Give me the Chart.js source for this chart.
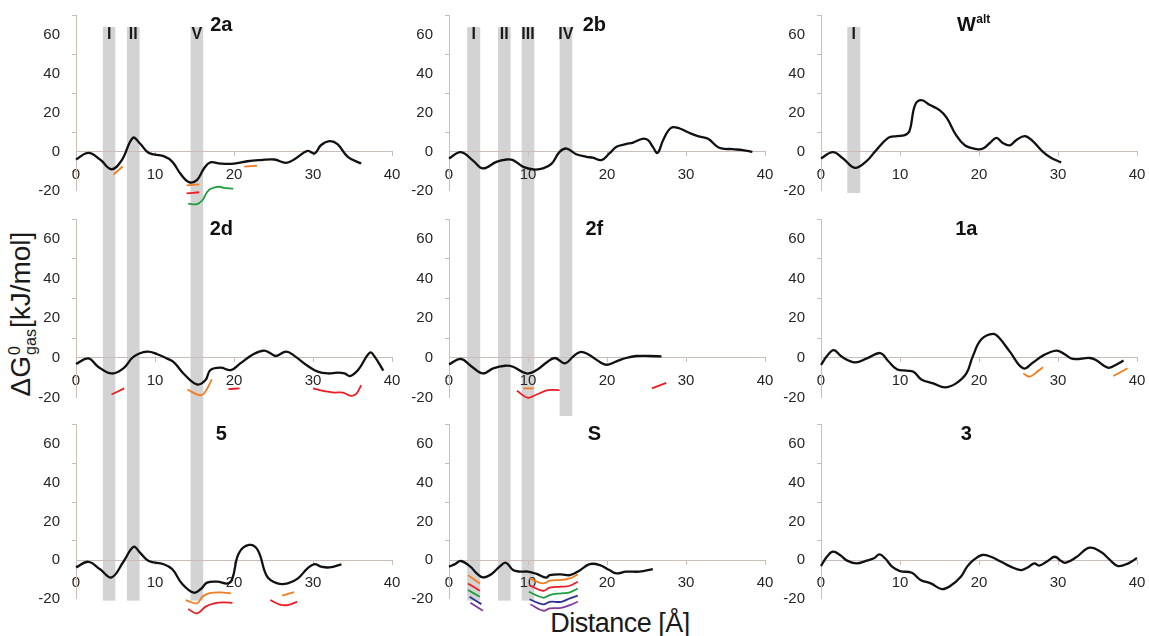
<!DOCTYPE html>
<html>
<head>
<meta charset="utf-8">
<script src="https://cdn.jsdelivr.net/npm/chart.js@4.4.1/dist/chart.umd.min.js"></script>
<style>
  html, body { margin: 0; padding: 0; background: #fff; }
  body { width: 1149px; height: 636px; position: relative; overflow: hidden; font-family: Arial, "Liberation Sans", sans-serif; }
  .panel { position: absolute; }
  .panel canvas { display: block; }
  #ylab { position: absolute; left: 23px; top: 314px; transform: translate(-50%, -50%) rotate(-90deg);
          font-size: 28px; color: #1a1a1a; white-space: nowrap; line-height: 1; }
  #ylab .ss { display: inline-block; vertical-align: middle; font-size: 16px; line-height: 1; text-align: left; margin: 0 1px; }
  #ylab .ss span { display: block; }
  #xlab { position: absolute; left: 620px; top: 623px; transform: translate(-50%, -50%);
          font-size: 27px; letter-spacing: -0.5px; color: #1a1a1a; white-space: nowrap; line-height: 1; }
</style>
</head>
<body>
<div id="ylab">ΔG<span class="ss"><span>0</span><span>gas</span></span>[kJ/mol]</div>
<div id="xlab">Distance [Å]</div>
<script>
// 各面板的能量曲線 (x: Å, y: kJ/mol)
const x2a = [0, 1.57, 3.05, 4.5, 5.8, 7.2, 8.1, 9.2, 11.1, 12.2, 13.2, 14.3, 15.3, 16.2, 17.0, 18.3, 20.0, 21.7, 23.4, 25.1, 26.6, 27.8, 29.3, 30.2, 31.0, 32.1, 33.1, 34.4, 36.1];
const y2a = [-4.1, -0.7, -4.1, -9.1, -4.4, 7.0, 4.1, -0.7, -2.4, -5.3, -11.3, -15.7, -14.7, -8.7, -5.6, -6.2, -6.2, -5.0, -4.4, -4.1, -5.8, -3.6, 0.3, -1.0, 3.2, 5.3, 3.8, -2.7, -6.2];
const x2b = [0, 1.5, 3.07, 4.3, 6.0, 7.3, 8.1, 9.4, 10.7, 11.9, 13.0, 14.0, 14.9, 16.1, 17.4, 18.2, 19.3, 20.3, 21.2, 22.4, 23.3, 24.5, 25.2, 25.8, 26.4, 27.1, 28.1, 29.2, 30.4, 31.5, 32.8, 34.2, 35.9, 37.2, 38.4];
const y2b = [-3.6, -0.3, -4.8, -8.7, -5.3, -4.1, -4.4, -7.9, -9.2, -8.7, -6.2, -0.2, 1.5, -1.4, -2.7, -3.2, -4.4, -1.0, 2.4, 3.8, 4.6, 6.5, 5.8, 2.4, -0.7, 5.8, 12.1, 11.8, 9.6, 7.9, 6.5, 1.9, 1.2, 0.7, -0.2];
const xWalt = [0, 1.5, 2.8, 4.3, 5.8, 6.8, 8.5, 9.6, 10.6, 11.2, 11.9, 12.7, 13.8, 15.0, 15.9, 17.1, 18.2, 19.7, 20.5, 21.3, 22.2, 23.0, 23.9, 24.7, 25.8, 26.8, 28.1, 29.1, 30.4];
const yWalt = [-3.6, -0.3, -3.6, -8.4, -4.8, -0.2, 7.0, 7.9, 8.4, 10.4, 23.8, 26.3, 23.8, 21.2, 17.4, 8.4, 3.2, 1.2, 1.5, 4.1, 7.0, 4.4, 3.2, 5.8, 7.9, 5.3, -0.2, -3.2, -5.6];
const x2d = [0, 1.57, 2.8, 4.5, 6.0, 7.3, 9.0, 10.3, 11.5, 12.4, 13.6, 15.3, 16.4, 17.0, 18.3, 19.6, 20.8, 22.5, 23.8, 24.6, 25.3, 26.6, 27.6, 29.3, 30.6, 31.9, 33.1, 34.0, 34.7, 35.7, 37.2, 37.8, 38.9];
const y2d = [-3.0, -0.2, -4.4, -7.8, -5.2, 0.7, 3.2, 1.9, -0.2, -2.2, -7.8, -13.3, -11.1, -6.1, -4.9, -6.1, -2.7, 2.0, 3.7, 2.4, 1.0, 3.2, 1.2, -3.9, -6.9, -7.8, -7.4, -7.8, -9.1, -6.1, 2.7, 0.7, -6.4];
const x2f = [0, 1.5, 2.9, 4.3, 5.6, 7.1, 8.1, 9.8, 11.1, 12.3, 13.4, 14.7, 15.7, 16.6, 17.6, 18.9, 19.9, 21.2, 22.4, 23.7, 25.4, 26.9];
const y2f = [-3.2, -0.5, -4.4, -7.8, -5.2, -3.9, -4.4, -7.8, -6.1, -2.4, 0, -2.7, 0.7, 3.0, 1.9, -1.5, -3.4, -1.7, 0, 1.0, 1.0, 0.8];
const x1a = [0, 0.7, 1.6, 2.6, 4.3, 5.8, 7.5, 8.5, 9.6, 10.8, 11.7, 12.7, 14.2, 15.7, 17.1, 18.4, 19.2, 20.3, 21.8, 22.6, 23.9, 25.6, 26.8, 28.1, 29.8, 30.8, 31.9, 34.0, 34.8, 36.3, 37.3, 38.3];
const y1a = [-3.5, 0.7, 4.0, 0.7, -2.2, -0.2, 2.5, -1.5, -5.7, -6.4, -6.9, -10.8, -12.8, -14.8, -12.8, -7.8, 0.7, 9.4, 12.1, 9.9, 3.2, -5.2, -2.4, 1.2, 3.7, 2.0, -0.5, 0, -1.0, -4.9, -3.5, -1.3];
const x5 = [0, 1.57, 3.05, 4.5, 6.0, 7.3, 8.1, 9.2, 11.1, 12.2, 13.4, 14.9, 15.8, 16.6, 17.9, 19.2, 19.8, 20.6, 21.9, 23.0, 24.2, 25.5, 26.8, 28.1, 29.3, 30.2, 31.0, 32.1, 33.6];
const y5 = [-3.8, -0.9, -4.8, -9.0, -0.9, 6.9, 3.8, -0.5, -2.2, -4.8, -12.1, -16.9, -15.0, -11.7, -11.2, -12.1, -9.5, 3.4, 7.8, 5.2, -8.6, -12.1, -12.1, -9.5, -4.3, -2.1, -3.4, -3.8, -2.2];
const xS = [0, 0.76, 1.5, 2.7, 3.5, 4.3, 5.4, 6.4, 7.2, 8.1, 9.0, 10.0, 11.1, 12.3, 12.75, 14.2, 15.3, 16.5, 17.8, 19.1, 20.3, 21.2, 22.4, 24.1, 25.8];
const yS = [-3.4, -2.1, -0.5, -3.4, -6.9, -9.0, -7.2, -3.4, -1.4, -5.2, -6.0, -6.0, -7.2, -9.1, -7.8, -7.4, -7.8, -5.5, -2.1, -2.6, -5.2, -6.9, -6.0, -6.0, -4.7];
const x3 = [0, 0.7, 1.5, 2.4, 3.3, 4.5, 5.8, 6.7, 7.4, 8.1, 9.0, 10.0, 11.5, 12.6, 13.9, 15.3, 16.4, 17.7, 18.5, 19.4, 20.4, 21.5, 22.8, 24.0, 25.3, 26.1, 27.0, 27.6, 28.7, 29.6, 30.4, 31.0, 32.3, 34.0, 35.5, 36.5, 37.6, 38.9, 40.0];
const y3 = [-3.1, 1.4, 4.3, 2.6, -0.3, -1.7, -0.3, 0.9, 2.9, 0.9, -3.4, -5.7, -6.6, -10.3, -12.1, -15.0, -13.3, -8.6, -3.4, 0.3, 2.6, 1.7, -0.9, -3.4, -5.2, -4.0, -1.7, -2.9, -0.5, 1.7, -0.5, -1.4, 1.4, 6.4, 4.0, 0.3, -3.1, -1.7, 1.0];

// 彩色短線段 (o 橘 / r 紅 / g 綠 / b 藍 / p 紫)
const seg2aX = [[4.75, 5.9], [14.0, 15.6], [14.0, 15.6], [21.3, 22.9], [14.2, 15.3, 16.0, 16.8, 17.9, 18.7, 19.9]];
const seg2aY = [[-11.8, -7.7], [-17.4, -16.9], [-21.5, -20.9], [-7.8, -7.3], [-26.7, -27, -25, -19.8, -18.1, -18.6, -19]];
const seg2aC = ['o', 'o', 'r', 'o', 'g'];
const seg2dX = [[4.5, 6.1], [14.1, 15.6, 16.2, 17.2], [19.3, 20.7], [30.0, 31.4, 32.7, 33.8, 34.8, 35.5, 36.1]];
const seg2dY = [[-18.4, -15.3], [-15.9, -18.7, -17.9, -10.8], [-15.7, -15.3], [-15.3, -16.7, -17.4, -17.4, -19.1, -17.9, -13.7]];
const seg2dC = ['r', 'o', 'r', 'r'];
const seg2fX = [[9.4, 10.7], [8.6, 10.0, 11.1, 12.5, 14.0], [25.7, 27.5]];
const seg2fY = [[-15.3, -15.3], [-16.5, -20.1, -18.4, -16.2, -16.2], [-15.3, -12.5]];
const seg2fC = ['o', 'r', 'r'];
const seg1aX = [[25.6, 26.4, 27.2, 28.1], [37.0, 38.8]];
const seg1aY = [[-7.8, -9.4, -7.4, -4.7], [-9.1, -5.2]];
const seg1aC = ['o', 'o'];
const seg5X = [[13.9, 15.3, 16.0, 16.8, 18.3, 19.6], [14.2, 15.3, 16.4, 17.5, 18.7, 19.8], [24.6, 25.7, 26.8, 28.0], [26.1, 27.6]];
const seg5Y = [[-20.7, -22.4, -19.0, -17.2, -16.7, -17.2], [-25.3, -27.6, -24.1, -22.4, -21.9, -22.2], [-20.7, -22.9, -23.3, -21.6], [-18.4, -16.6]];
const seg5C = ['o', 'r', 'r', 'o'];
const segSX = [[2.4, 3.9], [2.4, 3.9], [2.4, 3.9], [2.6, 4.1], [2.7, 4.3],
  [10.2, 11.9, 12.75, 14.2, 15.3, 16.3], [10.1, 11.9, 12.75, 14.2, 15.3, 16.3], [10.1, 11.9, 12.75, 14.2, 15.3, 16.3],
  [10.2, 11.9, 12.75, 14.2, 15.3, 16.3], [10.3, 11.9, 12.75, 14.2, 15.3, 16.3]];
const segSY = [[-7.8, -12.1], [-12.1, -15.9], [-15.5, -19.0], [-19.0, -22.8], [-22.1, -26.2],
  [-9.5, -12.1, -10.7, -10.3, -9.5, -7.4], [-12.9, -15.9, -14.3, -13.8, -13.3, -11.2], [-16.4, -19.5, -18.1, -17.2, -16.7, -14.7],
  [-20.3, -22.9, -21.6, -21.6, -19.8, -18.4], [-22.9, -26.2, -25.0, -24.7, -23.3, -21.6]];
const segSC = ['o', 'r', 'g', 'b', 'p', 'o', 'r', 'g', 'b', 'p'];

// 灰色區段 (跨列)，x 為 Å
const bandCol = [0, 0, 0, 1, 1, 1, 1, 2];
const bandName = ['I', 'II', 'V', 'I', 'II', 'III', 'IV', 'I'];
const bandFrom = [3.4, 6.44, 14.5, 2.3, 6.2, 9.2, 14.0, 3.33];
const bandTo = [4.98, 8.05, 16.1, 3.95, 7.8, 10.8, 15.6, 4.98];
const bandTop = [63.8, 63.8, 63.8, 63.8, 63.8, 63.8, 63.8, 63.8];
const bandLastRow = [2, 2, 2, 2, 2, 2, 1, 0];
const bandBottom = [-21, -21, -21, -21, -21, -21, -29.2, -21.3];

const panelTitle = ['2a', '2b', 'W', '2d', '2f', '1a', '5', 'S', '3'];
const panelSup = ['', '', 'alt', '', '', '', '', '', ''];
const curveX = [x2a, x2b, xWalt, x2d, x2f, x1a, x5, xS, x3];
const curveY = [y2a, y2b, yWalt, y2d, y2f, y1a, y5, yS, y3];
const segX = [seg2aX, [], [], seg2dX, seg2fX, seg1aX, seg5X, segSX, []];
const segY = [seg2aY, [], [], seg2dY, seg2fY, seg1aY, seg5Y, segSY, []];
const segC = [seg2aC, [], [], seg2dC, seg2fC, seg1aC, seg5C, segSC, []];

const COLORS = { o: '#f47b20', r: '#ed1c24', g: '#1f9e3f', b: '#2e3192', p: '#84399a' };
const AXIS = '#c9bfb8';
const BAND = '#d3d3d3';

// 版面
const colLeft = [0, 373, 745];
const rowTop = [0, 207, 418];
const rowH = [207, 211, 218];
const padTop = [15, 12, 6.7];
const padBottom = [16.5, 20.3, 37.3];

Chart.defaults.font.family = 'Arial, "Liberation Sans", sans-serif';

const pts = (xs, ys) => xs.map((x, i) => ({ x, y: ys[i] }));

const panelPlugin = {
  id: 'panel',
  beforeDraw(chart, args, opts) {
    const ctx = chart.ctx, xs = chart.scales.x, ys = chart.scales.y;
    ctx.save();
    for (let k = 0; k < bandName.length; k++) {
      if (bandCol[k] !== opts.col || opts.row > bandLastRow[k]) continue;
      const x0 = xs.getPixelForValue(bandFrom[k]);
      const x1 = xs.getPixelForValue(bandTo[k]);
      const top = opts.row === 0 ? ys.getPixelForValue(bandTop[k]) : 0;
      const bot = opts.row === bandLastRow[k] ? ys.getPixelForValue(bandBottom[k]) : chart.height;
      ctx.fillStyle = BAND;
      ctx.fillRect(x0, top, x1 - x0, bot - top);
      if (opts.row === 0) {
        ctx.fillStyle = '#1a1a1a';
        ctx.font = 'bold 16px Arial, "Liberation Sans", sans-serif';
        ctx.textAlign = 'center';
        ctx.textBaseline = 'middle';
        ctx.fillText(bandName[k], (x0 + x1) / 2, top + 8);
      }
    }
    ctx.restore();
  },
  afterDraw(chart, args, opts) {
    const ctx = chart.ctx, a = chart.chartArea;
    const cx = a.left + 0.46 * (a.right - a.left);
    const cy = a.top + 10;
    ctx.save();
    ctx.fillStyle = '#111';
    ctx.textBaseline = 'middle';
    ctx.textAlign = 'center';
    ctx.font = 'bold 20px Arial, "Liberation Sans", sans-serif';
    ctx.fillText(panelTitle[opts.i], cx, cy);
    if (panelSup[opts.i]) {
      const w = ctx.measureText(panelTitle[opts.i]).width;
      ctx.font = 'bold 12px Arial, "Liberation Sans", sans-serif';
      ctx.textAlign = 'left';
      ctx.fillText(panelSup[opts.i], cx + w / 2 + 0.5, cy - 5);
    }
    ctx.restore();
  }
};

function makePanel(i) {
  const row = Math.floor(i / 3), col = i % 3;
  const div = document.createElement('div');
  div.className = 'panel';
  div.style.left = colLeft[col] + 'px';
  div.style.top = rowTop[row] + 'px';
  const cv = document.createElement('canvas');
  cv.width = 404;
  cv.height = rowH[row];
  cv.style.width = '404px';
  cv.style.height = rowH[row] + 'px';
  div.appendChild(cv);
  document.body.appendChild(div);

  const datasets = [{ data: pts(curveX[i], curveY[i]), borderColor: '#111', borderWidth: 2.3, clip: false }];
  segX[i].forEach((sx, k) => {
    datasets.push({ data: pts(sx, segY[i][k]), borderColor: COLORS[segC[i][k]], borderWidth: 1.8, clip: false });
  });

  new Chart(cv, {
    type: 'line',
    data: { datasets },
    options: {
      responsive: false,
      animation: false,
      devicePixelRatio: 1,
      layout: { padding: { left: 16, right: 12, top: padTop[row], bottom: padBottom[row] } },
      elements: { point: { radius: 0 }, line: { tension: 0.4, fill: false } },
      scales: {
        x: {
          type: 'linear', min: 0, max: 40, position: { y: 0 },
          afterFit(s) { s.paddingLeft = 0; s.paddingRight = 0; s.paddingTop = 0; s.paddingBottom = 0; },
          ticks: { stepSize: 10, padding: 10, color: '#262626', font: { size: 15 }, maxRotation: 0 },
          grid: { drawOnChartArea: false, tickLength: 4, tickColor: AXIS },
          border: { color: AXIS, width: 1 }
        },
        y: {
          type: 'linear', min: -20, max: 70,
          afterFit(s) { s.width = 60; s.paddingTop = 0; s.paddingBottom = 0; },
          ticks: { stepSize: 10, autoSkip: false, padding: 12, color: '#262626', font: { size: 15 },
                   callback: v => (v % 20 === 0 ? v : '') },
          grid: { drawOnChartArea: false, tickLength: 4,
                  tickColor: c => (c.tick && c.tick.value % 20 !== 0 ? AXIS : 'rgba(0,0,0,0)') },
          border: { color: AXIS, width: 1 }
        }
      },
      plugins: { legend: { display: false }, tooltip: { enabled: false }, panel: { row, col, i } }
    },
    plugins: [panelPlugin]
  });
}

for (let i = 0; i < 9; i++) makePanel(i);
</script>
</body>
</html>
